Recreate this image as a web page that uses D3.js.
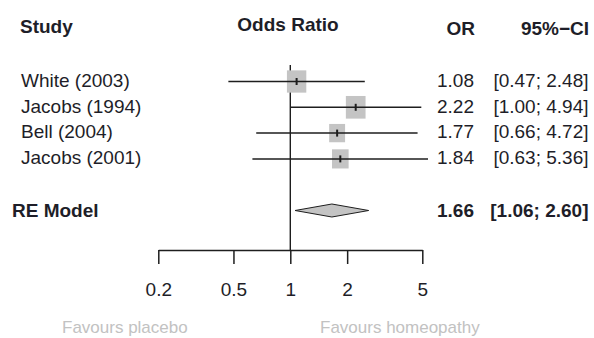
<!doctype html>
<html>
<head>
    <meta charset="UTF-8">
    <title>forest plot</title>
    <script src="https://cdn.jsdelivr.net/npm/d3@7"></script>
    <style>
        body{ margin:0; background:#fff; }
        text{ font-family:"Liberation Sans", Arial, sans-serif; fill:#1e1e28; }
    </style>
</head>
<body>
    <svg width="594" height="338" id="svg1"></svg>

    <script>
        // data
        var studies = ["White (2003)", "Jacobs (1994)", "Bell (2004)", "Jacobs (2001)"];
        var oddsRatio = [1.08, 2.22, 1.77, 1.84];
        var lower = [0.47, 1.00, 0.66, 0.63];
        var upper = [2.48, 4.94, 4.72, 5.36];
        var weights = [29, 30, 19.6, 21.4];
        var reLabel = "RE Model";
        var reOR = 1.66, reLower = 1.06, reUpper = 2.60;
        var tickVals = [0.2, 0.5, 1, 2, 5];

        var svg = d3.select("#svg1");
        var f2 = d3.format(".2f");

        var x = d3.scaleLog().domain([0.2, 5]).range([158.3, 422.3]);
        var y = d3.scaleLinear().domain([0, 5]).range([81.5, 210.5]);
        var size = d3.scaleSqrt().domain([0, 30]).range([0, 19.7]);
        var axisY = 250;

        // headers
        svg.append("text").attr("x", 20).attr("y", 33)
           .style("font-size", "19px").style("font-weight", "bold").text("Study");
        svg.append("text").attr("x", 288).attr("y", 30.5).attr("text-anchor", "middle")
           .style("font-size", "19px").style("font-weight", "bold").text("Odds Ratio");
        svg.append("text").attr("x", 475).attr("y", 35).attr("text-anchor", "end")
           .style("font-size", "19px").style("font-weight", "bold").text("OR");
        svg.append("text").attr("x", 589).attr("y", 35).attr("text-anchor", "end")
           .style("font-size", "19px").style("font-weight", "bold").text("95%\u2212CI");

        // reference line at 1
        svg.append("line")
           .attr("x1", x(1)).attr("x2", x(1))
           .attr("y1", 65).attr("y2", axisY)
           .attr("stroke", "#1e1e1e").attr("stroke-width", 1.4);

        // study rows
        for(var i=0; i<studies.length; i++){
            var s = size(weights[i]);
            svg.append("rect")
               .attr("x", x(oddsRatio[i]) - s/2)
               .attr("y", y(i) - s*1.15/2)
               .attr("width", s)
               .attr("height", s*1.15)
               .attr("fill", "#c4c4c4");

            svg.append("line")
               .attr("x1", x(lower[i])).attr("x2", x(upper[i]))
               .attr("y1", y(i)).attr("y2", y(i))
               .attr("stroke", "#1e1e1e").attr("stroke-width", 1.5);

            svg.append("line")
               .attr("x1", x(oddsRatio[i])).attr("x2", x(oddsRatio[i]))
               .attr("y1", y(i) - 3.5).attr("y2", y(i) + 3.5)
               .attr("stroke", "#1e1e1e").attr("stroke-width", 2);

            svg.append("text").attr("x", 21).attr("y", y(i) + 5.3)
               .style("font-size", "19px").text(studies[i]);
            svg.append("text").attr("x", 474).attr("y", y(i) + 5.3).attr("text-anchor", "end")
               .style("font-size", "19px").text(f2(oddsRatio[i]));
            svg.append("text").attr("x", 588.5).attr("y", y(i) + 5.3).attr("text-anchor", "end")
               .style("font-size", "19px")
               .text("[" + f2(lower[i]) + "; " + f2(upper[i]) + "]");
        }

        // summary diamond
        var yr = y(5);
        svg.append("polygon")
           .attr("points", [
                [x(reLower), yr], [x(reOR), yr - 6.5],
                [x(reUpper), yr], [x(reOR), yr + 6.5]
           ].join(" "))
           .attr("fill", "#c4c4c4")
           .attr("stroke", "#1e1e1e").attr("stroke-width", 1);

        svg.append("text").attr("x", 12).attr("y", yr + 6.5)
           .style("font-size", "19px").style("font-weight", "bold").text(reLabel);
        svg.append("text").attr("x", 474).attr("y", yr + 6.5).attr("text-anchor", "end")
           .style("font-size", "19px").style("font-weight", "bold").text(f2(reOR));
        svg.append("text").attr("x", 588.5).attr("y", yr + 6.5).attr("text-anchor", "end")
           .style("font-size", "19px").style("font-weight", "bold")
           .text("[" + f2(reLower) + "; " + f2(reUpper) + "]");

        // axis
        var axis = d3.axisBottom(x)
                     .tickValues(tickVals)
                     .tickFormat(function(d){ return d; })
                     .tickSize(14)
                     .tickSizeOuter(0)
                     .tickPadding(19);

        var g = svg.append("g").attr("transform", "translate(0," + axisY + ")").call(axis);
        g.select(".domain").attr("stroke", "#1e1e1e").attr("stroke-width", 1.5);
        g.selectAll(".tick line").attr("stroke", "#1e1e1e").attr("stroke-width", 1.5);
        g.selectAll(".tick text")
         .style("font-size", "19px")
         .style("font-family", "'Liberation Sans', Arial, sans-serif")
         .attr("fill", "#1e1e28");

        // favours labels
        svg.append("text").attr("x", 62).attr("y", 333)
           .style("font-size", "17px").style("fill", "#c2c2c2").text("Favours placebo");
        svg.append("text").attr("x", 320).attr("y", 333)
           .style("font-size", "17px").style("fill", "#c2c2c2").text("Favours homeopathy");
    </script>
</body>
</html>
